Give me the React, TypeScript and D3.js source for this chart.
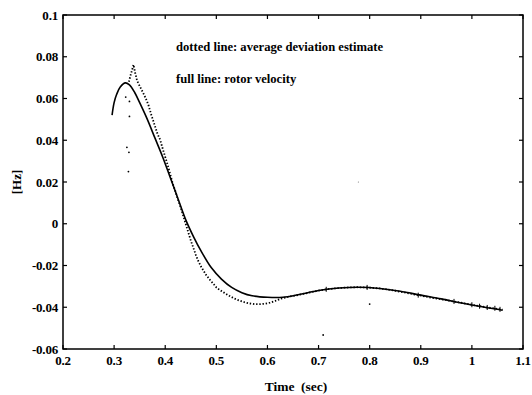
import React from "react";
import * as d3 from "d3";

// rotor velocity (full line)
const rotorTime = [0.296, 0.300, 0.305, 0.312, 0.322, 0.330, 0.340, 0.350, 0.365, 0.380, 0.395, 0.410, 0.425, 0.440, 0.455, 0.470, 0.490, 0.510, 0.530, 0.550, 0.570, 0.600, 0.630, 0.660, 0.700, 0.740, 0.780, 0.820, 0.860, 0.900, 0.940, 0.980, 1.020, 1.060];
const rotorHz = [0.052, 0.058, 0.062, 0.0655, 0.0675, 0.0665, 0.063, 0.058, 0.050, 0.041, 0.032, 0.022, 0.012, 0.002, -0.006, -0.013, -0.021, -0.0265, -0.0305, -0.033, -0.0345, -0.0352, -0.0352, -0.034, -0.032, -0.0308, -0.0304, -0.031, -0.0323, -0.0342, -0.036, -0.038, -0.0398, -0.0414];

// average deviation estimate (dotted line)
const devTime = [0.329, 0.332, 0.335, 0.338, 0.341, 0.345, 0.350, 0.357, 0.362, 0.367, 0.373, 0.380, 0.385, 0.390, 0.395, 0.400, 0.405, 0.410, 0.415, 0.420, 0.425, 0.430, 0.435, 0.440, 0.445, 0.450, 0.455, 0.460, 0.465, 0.470, 0.475, 0.480, 0.488, 0.495, 0.500, 0.507, 0.515, 0.525, 0.535, 0.545, 0.555, 0.565, 0.575, 0.585, 0.595, 0.605, 0.615, 0.625, 0.640, 0.655, 0.670, 0.685, 0.700, 0.715, 0.730, 0.745, 0.760, 0.775, 0.790, 0.805, 0.820, 0.835, 0.850, 0.865, 0.880, 0.895, 0.910, 0.925, 0.940, 0.955, 0.970, 0.985, 1.000, 1.015, 1.030, 1.045, 1.060];
const devHz = [0.068, 0.071, 0.0735, 0.0762, 0.0725, 0.0685, 0.066, 0.0626, 0.060, 0.057, 0.052, 0.0467, 0.043, 0.0403, 0.036, 0.032, 0.028, 0.0235, 0.019, 0.0155, 0.0115, 0.008, 0.004, 0.0, -0.004, -0.008, -0.0115, -0.015, -0.018, -0.0205, -0.0225, -0.0245, -0.027, -0.029, -0.0305, -0.0318, -0.033, -0.0345, -0.0358, -0.0368, -0.0376, -0.0382, -0.0385, -0.0385, -0.0383, -0.0378, -0.037, -0.036, -0.035, -0.0344, -0.0336, -0.0328, -0.032, -0.0314, -0.031, -0.0307, -0.0305, -0.0304, -0.0305, -0.0307, -0.031, -0.0315, -0.0321, -0.0328, -0.0335, -0.0342, -0.0349, -0.0356, -0.0362, -0.0368, -0.0375, -0.0381, -0.0388, -0.0395, -0.0401, -0.0406, -0.0412];

// stray estimate points
const strayTime = [0.3227, 0.330, 0.330, 0.325, 0.329, 0.328, 0.800, 0.709, 0.778];
const strayHz = [0.0607, 0.0586, 0.0514, 0.0366, 0.0342, 0.025, -0.0385, -0.0533, 0.020];

// small cross marks on the estimate
const markTime = [0.715, 0.795, 0.895, 0.965, 1.000, 1.015, 1.030, 1.045, 1.055];
const markHz = [-0.0314, -0.0305, -0.0342, -0.0372, -0.0388, -0.0395, -0.0401, -0.0405, -0.041];

const xTicks = [0.2, 0.3, 0.4, 0.5, 0.6, 0.7, 0.8, 0.9, 1, 1.1];
const yTicks = [0.1, 0.08, 0.06, 0.04, 0.02, 0, -0.02, -0.04, -0.06];

const W = 532;
const H = 395;
const left = 63, right = 523, top = 15, bottom = 349;
const font = '"Liberation Serif", "DejaVu Serif", serif';

export default function App() {
  const x = d3.scaleLinear().domain([0.2, 1.1]).range([left, right]);
  const y = d3.scaleLinear().domain([-0.06, 0.1]).range([bottom, top]);

  const rotorLine = d3.line<number>()
    .x((d, i) => x(rotorTime[i]))
    .y((d) => y(d))
    .curve(d3.curveCatmullRom);

  const devLine = d3.line<number>()
    .x((d, i) => x(devTime[i]))
    .y((d) => y(d))
    .curve(d3.curveLinear);

  const tk = 4;
  const txt = { fontFamily: font, fontWeight: 700 } as React.CSSProperties;

  return (
    <svg width={W} height={H} style={{ position: "absolute", left: 0, top: 0, background: "#fff" }}>
      <rect x={0} y={0} width={W} height={H} fill="#fff" />
      {/* frame */}
      <rect x={left} y={top} width={right - left} height={bottom - top} fill="none" stroke="#000" strokeWidth={1.5} />
      {xTicks.map((t) => (
        <g key={"x" + t}>
          <line x1={x(t)} x2={x(t)} y1={bottom} y2={bottom - tk} stroke="#000" strokeWidth={1.2} />
          <line x1={x(t)} x2={x(t)} y1={top} y2={top + tk} stroke="#000" strokeWidth={1.2} />
          <text x={x(t)} y={365} textAnchor="middle" fontSize={13} letterSpacing={-0.2} style={txt}>{String(t)}</text>
        </g>
      ))}
      {yTicks.map((t) => (
        <g key={"y" + t}>
          <line x1={left} x2={left + tk} y1={y(t)} y2={y(t)} stroke="#000" strokeWidth={1.2} />
          <line x1={right} x2={right - tk} y1={y(t)} y2={y(t)} stroke="#000" strokeWidth={1.2} />
          <text x={58} y={y(t) + 4.5} textAnchor="end" fontSize={13} letterSpacing={-0.2} style={txt}>{String(t)}</text>
        </g>
      ))}

      {/* rotor velocity */}
      <path d={rotorLine(rotorHz) || ""} fill="none" stroke="#000" strokeWidth={1.6} />

      {/* deviation estimate */}
      <path d={devLine(devHz) || ""} fill="none" stroke="#000" strokeWidth={1.8}
        strokeDasharray="1.4,1.8" />
      {strayTime.map((t, i) => (
        <circle key={"s" + i} cx={x(t)} cy={y(strayHz[i])} r={i === 8 ? 0.6 : 0.9} fill={i === 8 ? "#777" : "#000"} />
      ))}
      {markTime.map((t, i) => (
        <line key={"m" + i} x1={x(t)} x2={x(t)} y1={y(markHz[i]) - 2.5} y2={y(markHz[i]) + 2.5} stroke="#000" strokeWidth={1} />
      ))}

      {/* annotations */}
      <text x={176} y={51} fontSize={12.6} style={txt}>dotted line: average deviation estimate</text>
      <text x={176} y={83} fontSize={12.6} style={txt}>full line: rotor velocity</text>

      <text x={296} y={391} textAnchor="middle" fontSize={13.5} style={{ ...txt, whiteSpace: "pre" }}>Time  (sec)</text>
      <text transform="translate(21,182) rotate(-90)" textAnchor="middle" fontSize={13} style={txt}>[Hz]</text>
    </svg>
  );
}
